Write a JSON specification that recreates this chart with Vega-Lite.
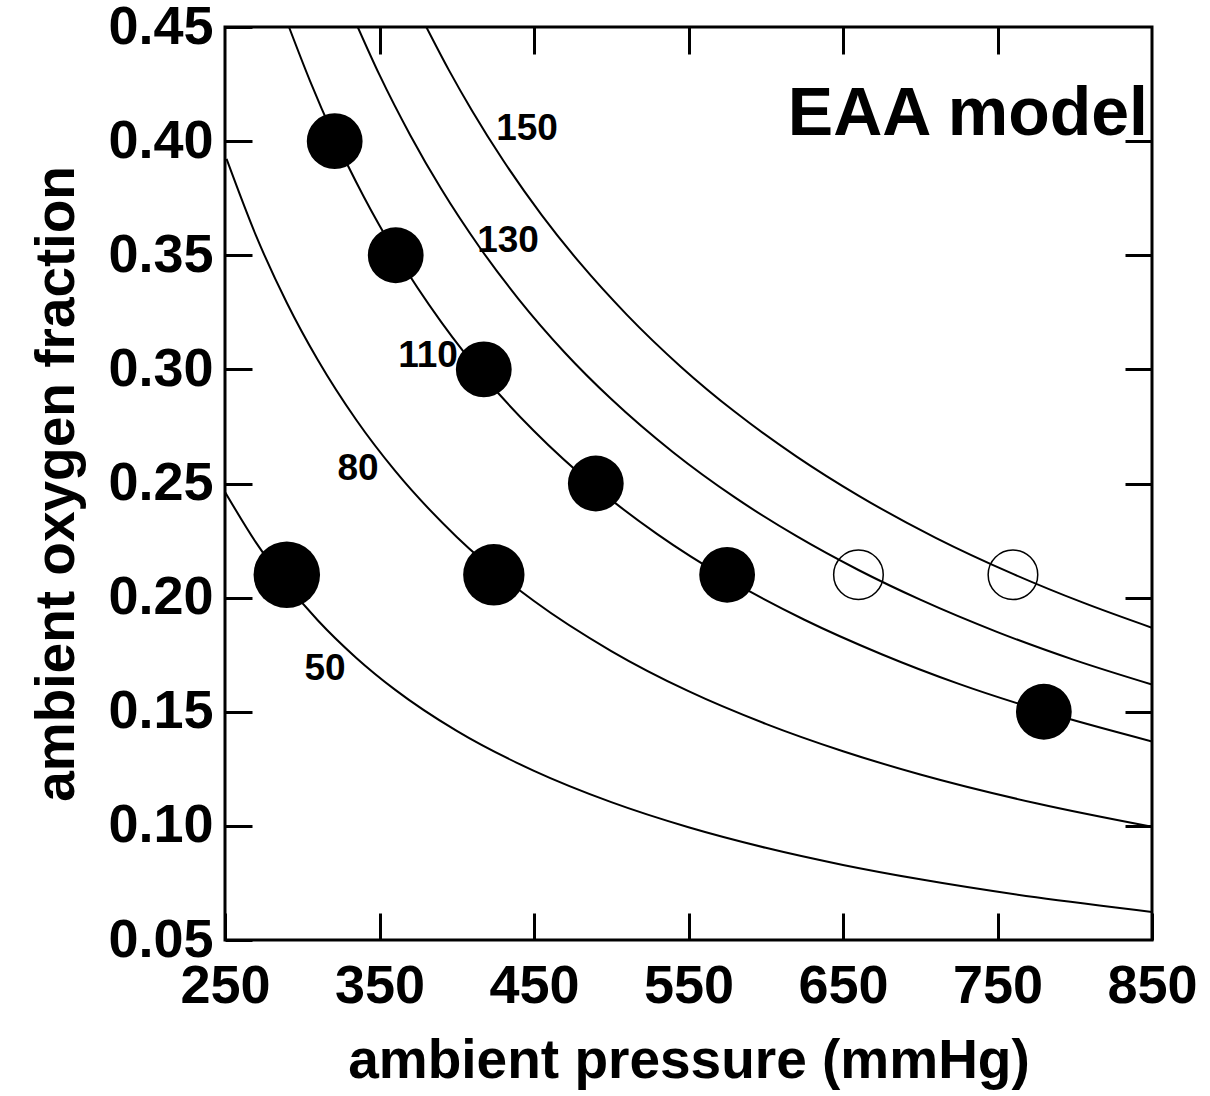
{
  "$schema": "https://vega.github.io/schema/vega-lite/v6.json",
  "width": 927,
  "height": 913,
  "autosize": "none",
  "padding": {"left": 225, "top": 27, "right": 58, "bottom": 156},
  "background": "white",
  "config": {
    "view": {"stroke": "black", "strokeWidth": 3},
    "font": "Liberation Sans",
    "axis": {
      "grid": false,
      "domain": false,
      "tickSize": -27,
      "tickWidth": 3,
      "tickColor": "black",
      "labelFlush": false,
      "labelOverlap": false,
      "labelFont": "Liberation Sans",
      "labelFontWeight": "bold",
      "labelFontSize": 54,
      "labelColor": "black",
      "titleFont": "Liberation Sans",
      "titleFontWeight": "bold",
      "titleFontSize": 55,
      "titleColor": "black"
    }
  },
  "datasets": {
    "curves": [
      {"C": 50, "P": 250, "F": 0.2463}, {"C": 50, "P": 270, "F": 0.2242}, {"C": 50, "P": 290, "F": 0.2058}, {"C": 50, "P": 310, "F": 0.1901}, {"C": 50, "P": 335, "F": 0.1736}, {"C": 50, "P": 360, "F": 0.1597}, {"C": 50, "P": 400, "F": 0.1416}, {"C": 50, "P": 450, "F": 0.1241}, {"C": 50, "P": 500, "F": 0.1104}, {"C": 50, "P": 550, "F": 0.0994}, {"C": 50, "P": 600, "F": 0.0904}, {"C": 50, "P": 650, "F": 0.0829}, {"C": 50, "P": 700, "F": 0.0766}, {"C": 50, "P": 775, "F": 0.0687}, {"C": 50, "P": 850, "F": 0.0623},
      {"C": 80, "P": 251, "F": 0.3922}, {"C": 80, "P": 270, "F": 0.3587}, {"C": 80, "P": 290, "F": 0.3292}, {"C": 80, "P": 310, "F": 0.3042}, {"C": 80, "P": 335, "F": 0.2778}, {"C": 80, "P": 360, "F": 0.2556}, {"C": 80, "P": 400, "F": 0.2266}, {"C": 80, "P": 450, "F": 0.1985}, {"C": 80, "P": 500, "F": 0.1766}, {"C": 80, "P": 550, "F": 0.1590}, {"C": 80, "P": 600, "F": 0.1447}, {"C": 80, "P": 650, "F": 0.1327}, {"C": 80, "P": 700, "F": 0.1225}, {"C": 80, "P": 775, "F": 0.1099}, {"C": 80, "P": 850, "F": 0.0996},
      {"C": 110, "P": 291.4, "F": 0.45}, {"C": 110, "P": 305, "F": 0.4264}, {"C": 110, "P": 320, "F": 0.4029}, {"C": 110, "P": 340, "F": 0.3754}, {"C": 110, "P": 360, "F": 0.3514}, {"C": 110, "P": 390, "F": 0.3207}, {"C": 110, "P": 420, "F": 0.2949}, {"C": 110, "P": 450, "F": 0.2730}, {"C": 110, "P": 490, "F": 0.2483}, {"C": 110, "P": 530, "F": 0.2277}, {"C": 110, "P": 575, "F": 0.2083}, {"C": 110, "P": 625, "F": 0.1903}, {"C": 110, "P": 675, "F": 0.1752}, {"C": 110, "P": 725, "F": 0.1622}, {"C": 110, "P": 780, "F": 0.1501}, {"C": 110, "P": 850, "F": 0.1370},
      {"C": 130, "P": 335.9, "F": 0.45}, {"C": 130, "P": 350, "F": 0.4290}, {"C": 130, "P": 370, "F": 0.4025}, {"C": 130, "P": 390, "F": 0.3790}, {"C": 130, "P": 415, "F": 0.3533}, {"C": 130, "P": 440, "F": 0.3308}, {"C": 130, "P": 470, "F": 0.3073}, {"C": 130, "P": 500, "F": 0.2870}, {"C": 130, "P": 540, "F": 0.2637}, {"C": 130, "P": 580, "F": 0.2439}, {"C": 130, "P": 620, "F": 0.2269}, {"C": 130, "P": 660, "F": 0.2121}, {"C": 130, "P": 700, "F": 0.1991}, {"C": 130, "P": 750, "F": 0.1849}, {"C": 130, "P": 800, "F": 0.1726}, {"C": 130, "P": 850, "F": 0.1619},
      {"C": 150, "P": 380.3, "F": 0.45}, {"C": 150, "P": 395, "F": 0.4310}, {"C": 150, "P": 410, "F": 0.4132}, {"C": 150, "P": 430, "F": 0.3916}, {"C": 150, "P": 455, "F": 0.3676}, {"C": 150, "P": 480, "F": 0.3464}, {"C": 150, "P": 510, "F": 0.3240}, {"C": 150, "P": 545, "F": 0.3012}, {"C": 150, "P": 580, "F": 0.2814}, {"C": 150, "P": 620, "F": 0.2618}, {"C": 150, "P": 660, "F": 0.2447}, {"C": 150, "P": 710, "F": 0.2262}, {"C": 150, "P": 760, "F": 0.2104}, {"C": 150, "P": 805, "F": 0.1979}, {"C": 150, "P": 850, "F": 0.1868}
    ],
    "points": [
      {"P": 321, "F": 0.40, "kind": "normal"},
      {"P": 360.5, "F": 0.35, "kind": "normal"},
      {"P": 417.5, "F": 0.30, "kind": "normal"},
      {"P": 490, "F": 0.25, "kind": "normal"},
      {"P": 575, "F": 0.21, "kind": "normal"},
      {"P": 780, "F": 0.15, "kind": "normal"},
      {"P": 424, "F": 0.21, "kind": "medium"},
      {"P": 290, "F": 0.21, "kind": "large"},
      {"P": 660, "F": 0.21, "kind": "open"},
      {"P": 760, "F": 0.21, "kind": "open"}
    ],
    "labels": [
      {"P": 445.5, "F": 0.4053, "text": "150"},
      {"P": 433.2, "F": 0.3562, "text": "130"},
      {"P": 381.4, "F": 0.3058, "text": "110"},
      {"P": 336.1, "F": 0.2563, "text": "80"},
      {"P": 314.7, "F": 0.1687, "text": "50"}
    ],
    "title": [
      {"P": 847.4, "F": 0.4027, "text": "EAA model"}
    ]
  },
  "layer": [
    {
      "data": {"name": "curves"},
      "mark": {"type": "line", "color": "black", "strokeWidth": 2, "interpolate": "monotone", "clip": true},
      "encoding": {
        "x": {"field": "P", "type": "quantitative", "scale": {"domain": [250, 850], "nice": false, "zero": false},
          "axis": {"orient": "bottom", "values": [250, 350, 450, 550, 650, 750, 850], "labelPadding": 46, "title": "ambient pressure (mmHg)", "titlePadding": 21}},
        "y": {"field": "F", "type": "quantitative", "scale": {"domain": [0.05, 0.45], "nice": false, "zero": false},
          "axis": {"orient": "left", "values": [0.05, 0.1, 0.15, 0.2, 0.25, 0.3, 0.35, 0.4, 0.45], "format": ".2f", "labelPadding": 39, "title": "ambient oxygen fraction", "titlePadding": 22}},
        "detail": {"field": "C", "type": "nominal"}
      }
    },
    {
      "data": {"name": "points"},
      "transform": [{"filter": "datum.kind !== 'open'"}],
      "mark": {"type": "point", "shape": "circle", "filled": true, "color": "black", "opacity": 1},
      "encoding": {
        "x": {"field": "P", "type": "quantitative",
          "axis": {"orient": "top", "values": [350, 450, 550, 650, 750], "labels": false, "title": null}},
        "y": {"field": "F", "type": "quantitative",
          "axis": {"orient": "right", "values": [0.1, 0.15, 0.2, 0.25, 0.3, 0.35, 0.4], "labels": false, "title": null}},
        "size": {"field": "kind", "type": "nominal", "scale": {"domain": ["large", "medium", "normal", "open"], "range": [4420, 2460, 1075, 560]}, "legend": null}
      }
    },
    {
      "data": {"name": "points"},
      "transform": [{"filter": "datum.kind === 'open'"}],
      "mark": {"type": "point", "shape": "circle", "filled": false, "stroke": "black", "strokeWidth": 1.5, "opacity": 1},
      "encoding": {
        "x": {"field": "P", "type": "quantitative", "axis": null},
        "y": {"field": "F", "type": "quantitative", "axis": null},
        "size": {"field": "kind", "type": "nominal", "legend": null}
      }
    },
    {
      "data": {"name": "labels"},
      "mark": {"type": "text", "font": "Liberation Sans", "fontWeight": "bold", "fontSize": 37, "color": "black", "align": "center", "baseline": "middle"},
      "encoding": {
        "x": {"field": "P", "type": "quantitative", "axis": null},
        "y": {"field": "F", "type": "quantitative", "axis": null},
        "text": {"field": "text"}
      }
    },
    {
      "data": {"name": "title"},
      "mark": {"type": "text", "font": "Liberation Sans", "fontWeight": "bold", "fontSize": 68, "color": "black", "align": "right", "baseline": "alphabetic"},
      "encoding": {
        "x": {"field": "P", "type": "quantitative", "axis": null},
        "y": {"field": "F", "type": "quantitative", "axis": null},
        "text": {"field": "text"}
      }
    }
  ],
  "resolve": {"axis": {"x": "independent", "y": "independent"}}
}
